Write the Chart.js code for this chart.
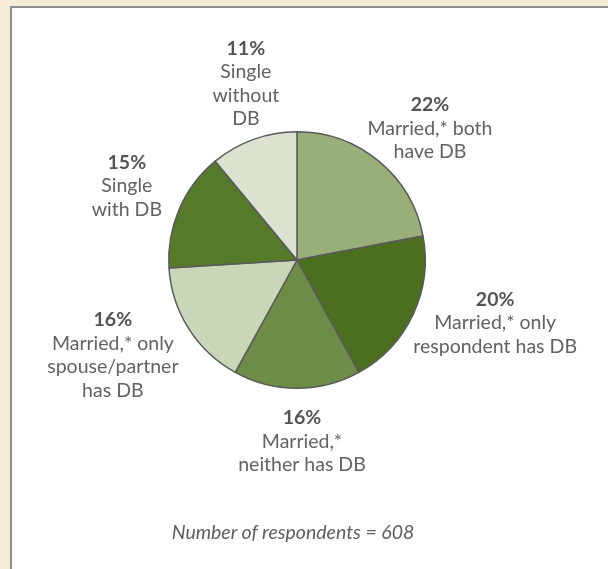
<!DOCTYPE html>
<html>
<head>
<meta charset="utf-8">
<script src="https://cdn.jsdelivr.net/npm/chart.js@4"></script>
<style>
  html, body { margin: 0; padding: 0; }
  body { width: 608px; height: 569px; background: #f6ecd7; position: relative; overflow: hidden; }
  .panel { position: absolute; left: 10px; top: 6px; width: 640px; height: 600px; background: #fff; border: 2px solid #8f8f8f; }
  #pie { position: absolute; left: 0; top: 0; }
  .note { position: absolute; left: 0; width: 586px; top: 520px; text-align: center;
          font: italic 19.5px Lato, sans-serif; color: #5e5e5e; }
</style>
</head>
<body>
<div class="panel"></div>
<canvas id="pie" width="608" height="569"></canvas>
<div class="note" id="note"></div>
<script>
// Survey shares by household pension (DB) status
const categories = [
    ['Married,* both', 'have DB'],
    ['Married,* only', 'respondent has DB'],
    ['Married,*', 'neither has DB'],
    ['Married,* only', 'spouse/partner', 'has DB'],
    ['Single', 'with DB'],
    ['Single', 'without', 'DB']
];
const shares = [22, 20, 16, 16, 15, 11];
const respondents = 608;

const sliceColors = ['#9aae7a', '#4b6f1e', '#6d8c47', '#c9d6b8', '#557a29', '#dbe2d0'];
// small hand tweaks so the text blocks sit where they read best
const labelNudge = [[5, 2], [-1, -11], [5, 8], [-12, -4], [-11, -5], [7, -2]];

const LINE_H = 23.5;
const GAP = 10;
const TEXT_FONT = '19.5px Lato, sans-serif';
const PCT_FONT = 'bold 19.5px Lato, sans-serif';

const sliceLabels = {
    id: 'sliceLabels',
    afterDatasetsDraw(chart) {
        const ctx = chart.ctx;
        const arcs = chart.getDatasetMeta(0).data;
        ctx.save();
        ctx.textAlign = 'center';
        ctx.textBaseline = 'middle';
        arcs.forEach((arc, i) => {
            const p = arc.getProps(['x', 'y', 'startAngle', 'endAngle', 'outerRadius'], true);
            const mid = (p.startAngle + p.endAngle) / 2;
            const ux = Math.cos(mid), uy = Math.sin(mid);
            const lines = [shares[i] + '%'].concat(categories[i]);
            ctx.font = TEXT_FONT;
            let w = 0;
            lines.forEach(l => { w = Math.max(w, ctx.measureText(l).width); });
            const h = lines.length * LINE_H;
            const cx = p.x + (p.outerRadius + GAP) * ux + ux * w / 2 + labelNudge[i][0];
            const cy = p.y + (p.outerRadius + GAP) * uy + uy * h / 2 + labelNudge[i][1];
            const top = cy - h / 2;
            lines.forEach((l, j) => {
                ctx.font = j === 0 ? PCT_FONT : TEXT_FONT;
                ctx.fillStyle = j === 0 ? '#545454' : '#626262';
                ctx.fillText(l, cx, top + LINE_H * (j + 0.5));
            });
        });
        ctx.restore();
    }
};

new Chart(document.getElementById('pie'), {
    type: 'pie',
    data: {
        labels: categories.map(c => c.join(' ')),
        datasets: [{
            data: shares,
            backgroundColor: sliceColors,
            borderColor: '#5a5a5a',
            borderWidth: 1.5
        }]
    },
    options: {
        responsive: false,
        animation: false,
        layout: { padding: { left: 168, right: 182, top: 131, bottom: 180 } },
        plugins: {
            legend: { display: false },
            tooltip: { enabled: false }
        }
    },
    plugins: [sliceLabels]
});

document.getElementById('note').textContent = 'Number of respondents = ' + respondents;
</script>
</body>
</html>
